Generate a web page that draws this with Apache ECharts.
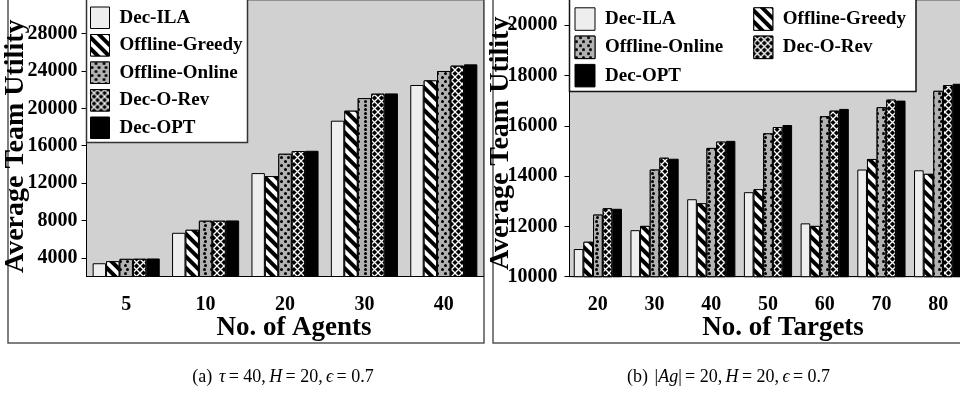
<!DOCTYPE html>
<html>
<head>
<meta charset="utf-8">
<script src="https://cdn.jsdelivr.net/npm/echarts@6/dist/echarts.min.js"></script>
<style>
  html, body { margin: 0; padding: 0; overflow: hidden; background: #fff; }
  #chart { width: 980px; height: 396px; }
</style>
</head>
<body>
<div id="chart"></div>
<script>
// ---- data -------------------------------------------------------------
const seriesNames = ['Dec-ILA', 'Offline-Greedy', 'Offline-Online', 'Dec-O-Rev', 'Dec-OPT'];

// (a) varying number of agents
const agents = ['5', '10', '20', '30', '40'];
const decILA_a    = [3420, 6680, 13070, 18680, 22500];
const offGreedy_a = [3640, 7000, 12750, 19750, 23000];
const offOnline_a = [3890, 7970, 15140, 21100, 24000];
const decORev_a   = [3900, 7970, 15430, 21570, 24570];
const decOPT_a    = [3930, 8000, 15460, 21600, 24710];
const ticks_a = [4000, 8000, 12000, 16000, 20000, 24000, 28000];

// (b) varying number of targets
const targets = ['20', '30', '40', '50', '60', '70', '80'];
const decILA_b    = [11100, 11850, 13080, 13360, 12120, 14260, 14230];
const offGreedy_b = [11390, 12020, 12920, 13480, 12020, 14680, 14090];
const offOnline_b = [12470, 14260, 15120, 15700, 16380, 16740, 17390];
const decORev_b   = [12720, 14730, 15370, 15950, 16600, 17040, 17620];
const decOPT_b    = [12700, 14690, 15400, 16030, 16670, 17000, 17670];
const ticks_b = [10000, 12000, 14000, 16000, 18000, 20000];

// ---- fill styles (patterned bars) ------------------------------------
const serif = '"Liberation Serif", "Times New Roman", serif';
const styles = {
  'Dec-ILA': { color: '#eeeeee' },
  'Offline-Greedy': {
    color: '#ffffff',
    decal: { symbol: 'rect', color: '#000', backgroundColor: '#fff', dashArrayX: [1, 0], dashArrayY: [3.4, 3.2], rotation: Math.PI / 4, symbolSize: 1 }
  },
  'Offline-Online': {
    color: '#b2b2b2',
    decal: { symbol: 'circle', color: '#000', backgroundColor: '#b2b2b2', dashArrayX: [[3, 4], [0, 3.5, 3, 0.5]], dashArrayY: [3, 1], symbolSize: 1 }
  },
  'Dec-O-Rev': {
    color: '#000000',
    decal: {
      // thin white diagonal lattice on black
      symbol: 'path://M0,0 L1.3,0 L10,8.7 L10,10 L8.7,10 L0,1.3 Z M8.7,0 L10,0 L10,1.3 L1.3,10 L0,10 L0,8.7 Z',
      color: '#fff', backgroundColor: '#000', dashArrayX: [7, 0], dashArrayY: [7, 0], symbolSize: 1
    }
  },
  'Dec-OPT': { color: '#000000' }
};

function makeSeries(values, axisIdx, catGap) {
  return values.map(function (vals, i) {
    const name = seriesNames[i];
    const st = styles[name];
    const itemStyle = { color: st.color, borderColor: '#000', borderWidth: 1 };
    if (st.decal) itemStyle.decal = st.decal;
    return {
      name: name,
      type: 'bar',
      xAxisIndex: axisIdx,
      yAxisIndex: axisIdx,
      data: vals,
      barGap: '0%',
      barCategoryGap: catGap,
      itemStyle: itemStyle,
      emphasis: { disabled: true },
      animation: false
    };
  });
}

const labelFont = { fontFamily: serif, fontWeight: 'bold', fontSize: 20, color: '#000' };
const nameFontX = { fontFamily: serif, fontWeight: 'bold', fontSize: 27, color: '#000' };
const nameFontY = { fontFamily: serif, fontWeight: 'bold', fontSize: 28, color: '#000' };
const legendText = { fontFamily: serif, fontWeight: 'bold', fontSize: 19, color: '#000', padding: [0, 0, 0, 5] };

function catAxis(idx, cats, nameText, namePad) {
  return {
    type: 'category', gridIndex: idx, data: cats,
    name: nameText, nameLocation: 'middle', nameGap: 38, nameMoveOverlap: false,
    nameTextStyle: Object.assign({ padding: namePad }, nameFontX),
    axisLine: { lineStyle: { color: '#000', width: 1 } },
    axisTick: { interval: 1, length: 5, lineStyle: { color: '#000' } },
    axisLabel: Object.assign({ margin: 18, interval: 0 }, labelFont),
    splitLine: { show: false }
  };
}

function valAxis(idx, min, max, ticks, gap, margin, namePad) {
  return {
    type: 'value', gridIndex: idx, min: min, max: max,
    name: 'Average Team Utility', nameLocation: 'middle', nameGap: gap, nameMoveOverlap: false,
    nameTextStyle: Object.assign({ padding: namePad }, nameFontY),
    axisLine: { show: true, lineStyle: { color: '#000', width: 1 } },
    axisTick: { show: true, length: 5, customValues: ticks, lineStyle: { color: '#000' } },
    axisLabel: Object.assign({ margin: margin, customValues: ticks, formatter: function (v) { return String(v); } }, labelFont),
    splitLine: { show: false }
  };
}

const chart = echarts.init(document.getElementById('chart'), null, { renderer: 'canvas' });

const captionRich = {
  r: { fontFamily: serif, fontSize: 18, fill: '#000' },
  i: { fontFamily: serif, fontSize: 18, fontStyle: 'italic', fill: '#000' }
};

const option = {
  animation: false,
  backgroundColor: '#ffffff',
  grid: [
    { left: 86.5, top: 0, width: 397, height: 276.5, show: true, backgroundColor: '#d1d1d1', borderColor: '#555', borderWidth: 1 },
    { left: 569.5, top: 0, width: 397, height: 276.7, show: true, backgroundColor: '#d1d1d1', borderColor: '#555', borderWidth: 1 }
  ],
  xAxis: [
    catAxis(0, agents, 'No. of Agents', [0, 0, 0, 18]),
    catAxis(1, targets, 'No. of Targets', [0, 0, 0, 30])
  ],
  yAxis: [
    valAxis(0, 2000, 31600, ticks_a, 57, 9, [0, 16, 0, 0]),
    valAxis(1, 10000, 21000, ticks_b, 55, 12, [0, 10, 0, 0])
  ],
  legend: [
    {
      data: seriesNames, orient: 'vertical', left: 90, top: 6.5,
      itemWidth: 19, itemHeight: 21.5, itemGap: 5, icon: 'rect',
      itemStyle: { borderColor: '#000', borderWidth: 1 },
      textStyle: legendText, selectedMode: false, padding: 0
    },
    {
      data: ['Dec-ILA', 'Offline-Online', 'Dec-OPT'], orient: 'vertical', left: 574.5, top: 7.3,
      itemWidth: 20, itemHeight: 22.5, itemGap: 4.8, icon: 'rect',
      itemStyle: { borderColor: '#000', borderWidth: 1 },
      textStyle: legendText, selectedMode: false, padding: 0
    },
    {
      data: ['Offline-Greedy', 'Dec-O-Rev'], orient: 'vertical', left: 753.3, top: 7.3,
      itemWidth: 19, itemHeight: 22.5, itemGap: 4.8, icon: 'rect',
      itemStyle: { borderColor: '#000', borderWidth: 1 },
      textStyle: legendText, selectedMode: false, padding: 0
    }
  ],
  graphic: [
    // subfigure frames
    { type: 'rect', z: -1, shape: { x: 8, y: -5, width: 476, height: 348 }, style: { fill: 'none', stroke: '#555', lineWidth: 1.5 } },
    { type: 'rect', z: -1, shape: { x: 493, y: -5, width: 520, height: 348 }, style: { fill: 'none', stroke: '#555', lineWidth: 1.5 } },
    // legend boxes
    { type: 'rect', z: 3, shape: { x: 86.5, y: -2, width: 161, height: 144.5 }, style: { fill: '#fff', stroke: '#333', lineWidth: 1.5 } },
    { type: 'rect', z: 3, shape: { x: 569.5, y: -2, width: 346.5, height: 93.5 }, style: { fill: '#fff', stroke: '#111', lineWidth: 1.5 } },
    // captions
    {
      type: 'text', z: 5, x: 283, y: 377,
      style: {
        text: '{r|(a)}  {i|τ} {r|= 40,} {i|H} {r|= 20,} {i|ϵ} {r|= 0.7}',
        align: 'center', verticalAlign: 'middle', rich: captionRich
      }
    },
    {
      type: 'text', z: 5, x: 728.5, y: 377,
      style: {
        text: '{r|(b)}  {r||}{i|Ag}{r||} {r|= 20,} {i|H} {r|= 20,} {i|ϵ} {r|= 0.7}',
        align: 'center', verticalAlign: 'middle', rich: captionRich
      }
    }
  ],
  series: makeSeries([decILA_a, offGreedy_a, offOnline_a, decORev_a, decOPT_a], 0, '15.5%')
    .concat(makeSeries([decILA_b, offGreedy_b, offOnline_b, decORev_b, decOPT_b], 1, '15%'))
};

chart.setOption(option);
</script>
</body>
</html>
